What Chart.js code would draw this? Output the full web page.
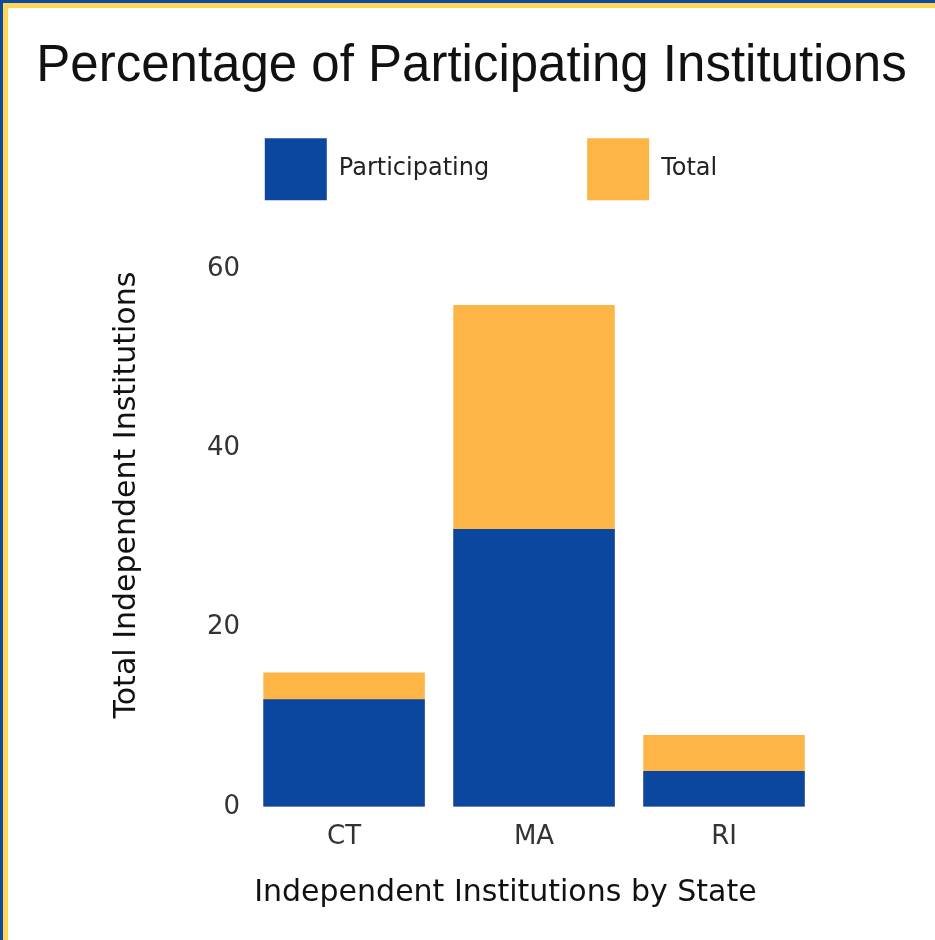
<!DOCTYPE html>
<html>
<head>
<meta charset="utf-8">
<script src="https://cdn.jsdelivr.net/npm/chart.js@4"></script>
<style>
    html, body { margin: 0; padding: 0; background: #fff; }
    .frame-outer {
        position: absolute; left: 0; top: 0; width: 935px; height: 940px;
        box-sizing: border-box;
        border-top: 3px solid #0c4c9c; border-left: 3px solid #0c4c9c;
    }
    .frame-inner {
        width: 100%; height: 100%; box-sizing: border-box;
        border-top: 5px solid #ffd65a; border-left: 5px solid #ffd65a;
        position: relative;
    }
    #chart-box { position: absolute; left: 0; top: 0; width: 927px; height: 932px; }
</style>
</head>
<body>
<div class="frame-outer"><div class="frame-inner">
    <div id="chart-box"><canvas id="chart"></canvas></div>
</div></div>
<script>
const states = ['CT', 'MA', 'RI'];
const participating = [12, 31, 4];
const totals = [15, 56, 8];
const yTicks = [0, 20, 40, 60];

const font = '"DejaVu Sans", sans-serif';

// legend needs extra room below it and sits a bit right of centre;
// title gets the full canvas width so it is not squeezed by the side padding
const layoutTweaks = {
    id: 'layoutTweaks',
    beforeLayout(chart) {
        const legend = chart.legend;
        if (!legend || legend._patched) return;
        const fit = legend.fit;
        legend.fit = function () {
            fit.call(this);
            this.height += 59;
        };
        legend._patched = true;
    },
    afterLayout(chart) {
        chart.legend.left += 28;
        chart.legend.right += 28;
        if (chart.titleBlock) {
            chart.titleBlock.left = 0;
            chart.titleBlock.right = chart.width;
        }
    }
};

const ctx = document.getElementById('chart');
new Chart(ctx, {
    type: 'bar',
    data: {
        labels: states,
        datasets: [
            {
                label: 'Participating',
                data: participating,
                backgroundColor: '#0b479e',
                grouped: false,
                order: 1,
                barPercentage: 0.85,
                categoryPercentage: 1
            },
            {
                label: 'Total',
                data: totals,
                backgroundColor: '#fdb545',
                grouped: false,
                order: 2,
                barPercentage: 0.85,
                categoryPercentage: 1
            }
        ]
    },
    options: {
        responsive: true,
        maintainAspectRatio: false,
        animation: false,
        layout: { padding: { left: 99, right: 116, top: 0, bottom: 25 } },
        plugins: {
            title: {
                display: true,
                text: 'Percentage of Participating Institutions',
                color: '#111',
                font: { family: '"Liberation Sans", Arial, sans-serif', size: 51, weight: 'normal', lineHeight: 1.2 },
                padding: { top: 28, bottom: -57 }
            },
            legend: {
                position: 'top',
                labels: {
                    boxWidth: 62,
                    boxHeight: 62,
                    padding: 98,
                    color: '#222',
                    font: { family: font, size: 24 }
                }
            },
            tooltip: { enabled: false }
        },
        scales: {
            x: {
                grid: { display: false, drawTicks: false },
                border: { display: false },
                ticks: { color: '#333', font: { family: font, size: 26 }, padding: 15 },
                title: {
                    display: true,
                    // trailing spaces nudge the title left of the axis centre, as in the original
                    text: 'Independent Institutions by State      ',
                    color: '#111',
                    font: { family: font, size: 30 },
                    padding: { top: 7, bottom: 4 }
                }
            },
            y: {
                min: 0,
                max: 60,
                afterBuildTicks: (axis) => { axis.ticks = yTicks.map(v => ({ value: v })); },
                grid: { display: false, drawTicks: false },
                border: { display: false },
                ticks: { color: '#333', font: { family: font, size: 26 }, padding: 9 },
                title: {
                    display: true,
                    // leading spaces lift the title above the axis centre
                    text: '         Total Independent Institutions',
                    color: '#111',
                    font: { family: font, size: 30 },
                    padding: { top: 2, bottom: 53 }
                }
            }
        }
    },
    plugins: [layoutTweaks]
});
</script>
</body>
</html>
